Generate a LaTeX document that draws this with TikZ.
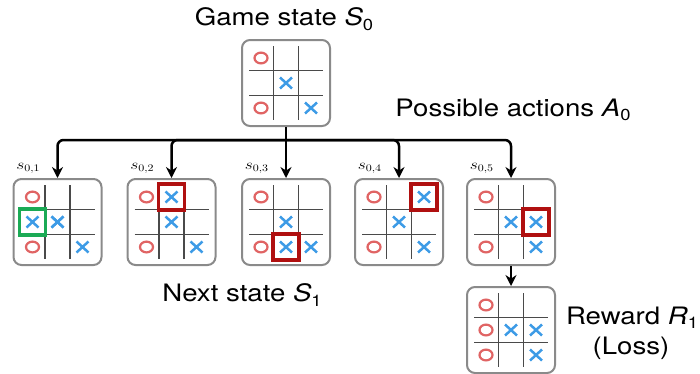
\documentclass[tikz,border=0pt]{standalone}
\usepackage{fontspec}
\setmainfont{TeX Gyre Heros}
\usepackage{graphicx}
\usetikzlibrary{arrows.meta}
\definecolor{boxgray}{HTML}{8A8A8A}
\definecolor{gridgray}{HTML}{4A4A4A}
\definecolor{ored}{HTML}{E06464}
\definecolor{xblue}{HTML}{3D9BE6}
\definecolor{hlgreen}{HTML}{1BAA55}
\definecolor{hlred}{HTML}{B01010}
\newcommand{\vsub}[2]{\textit{#1}\raisebox{-0.35ex}{\fontsize{16}{16}\selectfont #2}}
\newcommand{\gridlines}{\draw[gridline] (-12.5,-37) -- (-12.5,37) (12.5,-37) -- (12.5,37) (-37,-12.5) -- (37,-12.5) (-37,12.5) -- (37,12.5);}
\newcommand{\mO}[2]{\draw[omark] ({25*(#1-1)},{25*(#2-1)}) ellipse (6.5pt and 5.4pt);}
\newcommand{\mX}[2]{\draw[xmark] ({25*(#1-1)-6},{25*(#2-1)-5.5}) -- ++(12,11) ({25*(#1-1)-6},{25*(#2-1)+5.5}) -- ++(12,-11);}
\newcommand{\hlcell}[3]{\draw[hlbox,#3] ({25*(#1-1)-13},{25*(#2-1)-13}) rectangle ++(26,26);}
\newcommand{\basepos}{\mO{0}{0}\mX{1}{1}\mO{0}{2}\mX{2}{2}}
\begin{document}
\begin{tikzpicture}[x=1pt,y=-1pt,
  board/.style={draw=boxgray, line width=2pt, rounded corners=8pt, minimum width=88pt, minimum height=86pt, inner sep=0pt},
  gridline/.style={draw=gridgray, line width=1.5pt},
  omark/.style={draw=ored, line width=2.2pt},
  xmark/.style={draw=xblue, line width=2.5pt},
  hlbox/.style={line width=3.6pt},
  arr/.style={draw=black, line width=2.5pt, -{Stealth[length=11pt,width=11pt]}},
  lbl/.style={font=\fontsize{24}{27}\selectfont, xscale=1.15, inner sep=0pt},
  slab/.style={font=\fontsize{14}{16}\selectfont, xscale=1.2, inner sep=0pt}]
\useasboundingbox (0,0) rectangle (700,373);
% boards
\node[board] (b0) at (286,83) {};
\node[board] (b1) at (57.5,222) {};
\node[board] (b2) at (171.5,222) {};
\node[board] (b3) at (286,222) {};
\node[board] (b4) at (399,222) {};
\node[board] (b5) at (511,222) {};
\node[board] (b6) at (511,330) {};
% contents
\begin{scope}[shift={(286,83)}]\gridlines\basepos\end{scope}
\begin{scope}[shift={(57.5,222)}]\gridlines\basepos\mX{0}{1}\mX{1}{1}\hlcell{0}{1}{draw=hlgreen}\end{scope}
\begin{scope}[shift={(171.5,222)}]\gridlines\basepos\mX{1}{0}\hlcell{1}{0}{draw=hlred}\end{scope}
\begin{scope}[shift={(286,222)}]\gridlines\basepos\mX{1}{2}\hlcell{1}{2}{draw=hlred}\end{scope}
\begin{scope}[shift={(399,222)}]\gridlines\basepos\mX{2}{0}\hlcell{2}{0}{draw=hlred}\end{scope}
\begin{scope}[shift={(511,222)}]\gridlines\basepos\mX{2}{1}\hlcell{2}{1}{draw=hlred}\end{scope}
\begin{scope}[shift={(511,330)}]\gridlines\basepos\mO{0}{1}\mX{2}{1}\end{scope}
% labels
\node[lbl] (t0) at (284,19) {Game state \vsub{S}{0}};
\node[lbl] (ta) at (513,110) {Possible actions \vsub{A}{0}};
\node[lbl] (t1) at (242,295) {Next state \vsub{S}{1}};
\node[lbl] (tr) at (632,318) {Reward \vsub{R}{1}};
\node[lbl] (tl) at (631,348) {(Loss)};
\foreach \i in {1,...,5} {
  \node[slab, anchor=base west, xshift=3pt, yshift=9pt] (s\i) at (b\i.north west) {$s_{0,\i}$};
}
% connectors
\coordinate (hub) at (286,140);
\draw[line width=2.5pt] (b0.south) -- (hub);
\foreach \i in {1,2,4,5} {
  \draw[arr, rounded corners=6pt] (hub) -| (b\i.north);
}
\draw[arr] (hub) -- (b3.north);
\draw[arr] (b5.south) -- (b6.north);
\end{tikzpicture}
\end{document}
